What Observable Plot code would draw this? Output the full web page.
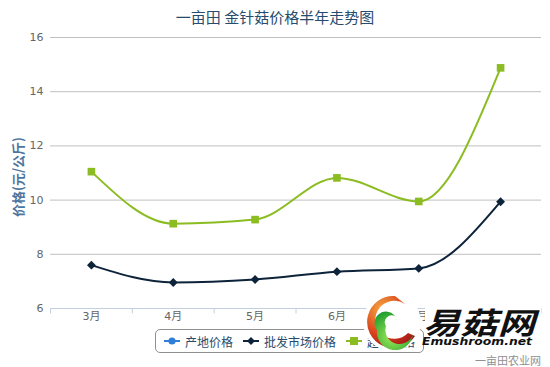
<!DOCTYPE html>
<html><head><meta charset="utf-8">
<script src="https://cdn.jsdelivr.net/npm/d3@7"></script>
<script src="https://cdn.jsdelivr.net/npm/@observablehq/plot@0.6"></script>
<style>
body{margin:0;background:#fff;font-family:"Lucida Grande","DejaVu Sans","Noto Sans CJK SC",sans-serif;}
#wrap{position:relative;width:550px;height:367px;overflow:hidden;}
#title{position:absolute;top:6px;left:0;width:550px;text-align:center;font-size:15px;color:#274b6d;font-family:"Noto Sans CJK SC",sans-serif;}
#chart{position:absolute;top:30px;left:0;}
#legend{position:absolute;left:155px;top:329px;height:24px;border:1px solid #909090;border-radius:5px;box-sizing:border-box;display:flex;align-items:center;padding:0 8px 0 8px;font-size:12px;color:#274b6d;font-family:"Noto Sans CJK SC",sans-serif;white-space:nowrap;}
.item{display:flex;align-items:center;margin-right:10px;white-space:nowrap;}
.item:last-child{margin-right:0;}
.item svg{margin-right:5px;}
#credit{position:absolute;right:9px;top:352px;font-size:11px;color:#909090;font-family:"Noto Sans CJK SC",sans-serif;}
#logo{position:absolute;left:355px;top:290px;}
</style></head>
<body>
<div id="wrap">
  <div id="title"></div>
  <div id="chart"></div>
  <div id="legend"></div>
  <svg id="logo" width="190" height="62">
    <defs>
      <radialGradient id="rg" cx="0.3" cy="0.25" r="0.9">
        <stop offset="0" stop-color="#f5a640"/><stop offset="0.55" stop-color="#d8401c"/><stop offset="1" stop-color="#9c1218"/>
      </radialGradient>
      <radialGradient id="gg" cx="0.45" cy="0.65" r="0.7">
        <stop offset="0" stop-color="#a0ec5a"/><stop offset="1" stop-color="#1a9a2c"/>
      </radialGradient>
    </defs>
    <circle cx="37" cy="32" r="29" fill="#fff"/>
    <path d="M40,6 A26,26 0 1 0 60,46 L53,43 A19,19 0 1 1 50,14 Z" fill="url(#rg)"/>
    <path d="M22,40 A16,16 0 0 0 58,44 A13,13 0 0 1 31,36 A7,7 0 0 1 40,26 A11,11 0 0 0 22,40 Z" fill="url(#gg)"/>
    <rect x="70" y="18" width="116" height="38" fill="#fff"/>
    <text x="68" y="44" font-size="30" font-weight="bold" font-style="italic" fill="#111" textLength="112" lengthAdjust="spacingAndGlyphs" font-family="Noto Sans CJK SC">易菇网</text>
    <text x="67" y="55" font-size="10.5" font-weight="bold" font-style="italic" fill="#111" textLength="110" lengthAdjust="spacingAndGlyphs" font-family="DejaVu Sans">Emushroom.net</text>
  </svg>
  <div id="credit"></div>
</div>
<script>
const titleText = "一亩田 金针菇价格半年走势图";
const yTitle = "价格(元/公斤)";
const months = ["3月","4月","5月","6月","7月","8月"];
const seriesNames = ["产地价格","批发市场价格","超市价格"];
const seriesColors = ["#2f7ed8","#0d233a","#8bbc21"];
const originPrice = [];
const wholesalePrice = [7.6, 6.96, 7.07, 7.36, 7.48, 9.94];
const supermarketPrice = [11.05, 9.13, 9.28, 10.82, 9.95, 14.88];
const yTicks = [6, 8, 10, 12, 14, 16];
const creditText = "一亩田农业网";

document.getElementById("title").textContent = titleText;
document.getElementById("credit").textContent = creditText;

const wholesale = months.map((m, i) => ({month: m, value: wholesalePrice[i]}));
const supermarket = months.map((m, i) => ({month: m, value: supermarketPrice[i]}));

const W = 550, H = 300, ML = 50, MR = 9, MT = 7, MB = 22;
const halfBand = (W - ML - MR) / months.length / 2;

const chart = Plot.plot({
  width: W, height: H,
  marginLeft: ML, marginRight: MR, marginTop: MT, marginBottom: MB,
  style: {fontFamily: '"Lucida Grande","DejaVu Sans","Noto Sans CJK SC",sans-serif', background: "#fff"},
  x: {type: "band", domain: months, padding: 0, round: false, label: null},
  y: {domain: [6, 16], ticks: yTicks, label: null},
  marks: [
    Plot.gridY(yTicks, {stroke: "#C0C0C0", strokeOpacity: 1}),
    Plot.ruleY([6], {stroke: "#C0D0E0", strokeWidth: 1}),
    Plot.ruleX(months, {x: d => d, dx: -halfBand, y1: 6, y2: 5.8, stroke: "#C0D0E0"}),
    Plot.ruleX([months[months.length - 1]], {x: d => d, dx: halfBand - 0.5, y1: 6, y2: 5.8, stroke: "#C0D0E0"}),
    Plot.axisY(yTicks, {tickSize: 0, tickPadding: 7, fontSize: 11, fill: "#666", tickFormat: d => d, label: null}),
    Plot.axisX({tickSize: 0, tickPadding: 4, fontSize: 11, fill: "#666", label: null}),
    Plot.text([yTitle], {frameAnchor: "left", textAnchor: "middle", dx: -32, dy: 4, rotate: -90, fontSize: 13, fontWeight: "bold", fill: "#4d759e", fontFamily: "Noto Sans CJK SC"}),
    Plot.line(supermarket, {x: "month", y: "value", stroke: seriesColors[2], strokeWidth: 2, curve: "monotone-x"}),
    Plot.line(wholesale, {x: "month", y: "value", stroke: seriesColors[1], strokeWidth: 2, curve: "monotone-x"}),
    Plot.dot(supermarket, {x: "month", y: "value", symbol: "square", r: 4.3, fill: seriesColors[2]}),
    Plot.dot(wholesale, {x: "month", y: "value", symbol: "diamond2", r: 4, fill: seriesColors[1], stroke: "none"})
  ]
});
document.getElementById("chart").appendChild(chart);

// legend
const symbols = ["circle", "diamond", "square"];
const legend = document.getElementById("legend");
seriesNames.forEach((name, i) => {
  const item = document.createElement("div");
  item.className = "item";
  const svg = d3.create("svg").attr("width", 16).attr("height", 12);
  svg.append("line").attr("x1", 0).attr("x2", 16).attr("y1", 6).attr("y2", 6).attr("stroke", seriesColors[i]).attr("stroke-width", 2);
  let path;
  if (symbols[i] === "diamond") path = "M0,-4L4,0L0,4L-4,0Z";
  else if (symbols[i] === "square") path = "M-4,-4H4V4H-4Z";
  else path = d3.symbol(d3.symbolCircle, 40)();
  svg.append("path").attr("d", path).attr("transform", "translate(8,6)").attr("fill", seriesColors[i]);
  item.appendChild(svg.node());
  const span = document.createElement("span");
  span.textContent = name;
  item.appendChild(span);
  legend.appendChild(item);
});
</script>
</body></html>
